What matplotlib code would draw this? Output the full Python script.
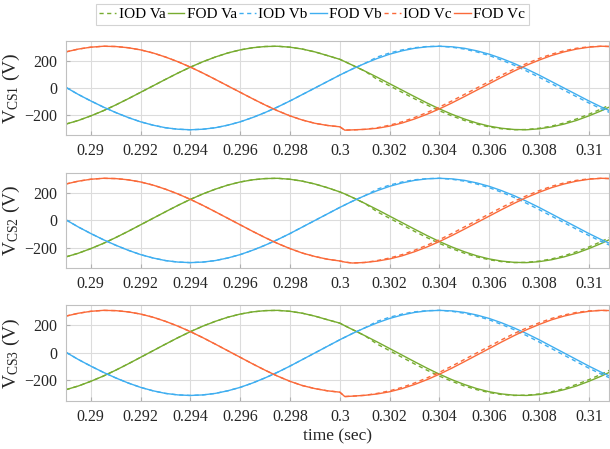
#!/usr/bin/env python3
# -*- coding: utf-8 -*-

import numpy as np
import matplotlib

matplotlib.use("Agg")
import matplotlib.pyplot as plt

# time base: 0.5 ms steps, plus one extra sample just after the 0.3 s event
t = np.r_[np.arange(0.289, 0.30001, 0.0005), 0.3002, np.arange(0.3005, 0.31101, 0.0005)]

# FOD phase voltages (V)
FOD_VA = [-268, -241, -207, -169, -126, -80, -32, 16, 64, 111, 155, 195, 230, 260, 283, 299,
          308, 310, 303, 289, 268, 241, 207, 193, 169, 126, 80, 32, -16, -64, -111, -155,
          -195, -230, -260, -283, -299, -308, -310, -303, -289, -268, -241, -207, -169, -126]
FOD_VB = [5, -48, -96, -141, -182, -219, -251, -276, -295, -306, -310, -306, -295, -276, -251,
          -219, -182, -141, -96, -48, 0, 48, 96, 114, 141, 182, 219, 251, 276, 295, 306, 310,
          306, 295, 276, 251, 219, 182, 141, 96, 48, 0, -48, -96, -141, -182]
FOD_VC = [268, 289, 303, 310, 308, 299, 283, 260, 230, 195, 155, 111, 64, 16, -32, -80, -126,
          -169, -207, -241, -268, -289, -303, -307, -310, -308, -299, -283, -260, -230, -195,
          -155, -111, -64, -16, 32, 80, 126, 169, 207, 241, 268, 289, 303, 310, 308]

# IOD phase voltages (V): same until the event, then slightly ahead
IOD_VA = [-268, -241, -207, -169, -126, -80, -32, 16, 64, 111, 155, 195, 230, 260, 283, 299,
          308, 310, 303, 289, 268, 241, 207, 193, 169, 126, 64, 16, -32, -80, -126, -169,
          -207, -241, -268, -289, -303, -310, -308, -299, -283, -260, -230, -195, -155, -111]
IOD_VB = [5, -48, -96, -141, -182, -219, -251, -276, -295, -306, -310, -306, -295, -276, -251,
          -219, -182, -141, -96, -48, 0, 48, 96, 114, 141, 182, 230, 260, 283, 299, 308, 310,
          303, 289, 268, 241, 207, 169, 126, 80, 32, -16, -64, -111, -155, -195]
IOD_VC = [268, 289, 303, 310, 308, 299, 283, 260, 230, 195, 155, 111, 64, 16, -32, -80, -126,
          -169, -207, -241, -268, -289, -303, -307, -310, -308, -295, -276, -251, -219, -182,
          -141, -96, -48, 0, 48, 96, 141, 182, 219, 251, 276, 295, 306, 310, 306]

# values around the switching event, one row per converter stage
EVENT_T = [0.2985, 0.299, 0.2995, 0.3, 0.3002, 0.3005, 0.301]
EVENT_VA = [
    [289, 268, 241, 213, 196, 170, 126],
    [289, 268, 241, 210, 195, 170, 126],
    [289, 268, 242, 217, 198, 171, 126],
]
EVENT_VC = [
    [-238, -262, -278, -288, -313, -311, -307],
    [-240, -265, -285, -298, -306, -313, -309],
    [-238, -260, -276, -286, -318, -315, -309],
]

YLABELS = [r"V$_{\mathrm{CS1}}$ (V)", r"V$_{\mathrm{CS2}}$ (V)", r"V$_{\mathrm{CS3}}$ (V)"]
XTICKS = [0.29, 0.292, 0.294, 0.296, 0.298, 0.3, 0.302, 0.304, 0.306, 0.308, 0.31]
XTICKLABELS = ["0.29", "0.292", "0.294", "0.296", "0.298", "0.3", "0.302", "0.304",
               "0.306", "0.308", "0.31"]

GREEN = "#77AC30"
BLUE = "#3FAEF0"
ORANGE = "#FA6A3A"


def patch(values, event_values):
    out = np.array(values, dtype=float)
    for te, v in zip(EVENT_T, event_values):
        out[np.isclose(t, te)] = v
    return out


def plot_panel(ax, i):
    va_f = patch(FOD_VA, EVENT_VA[i])
    va_i = patch(IOD_VA, EVENT_VA[i])
    vc_f = patch(FOD_VC, EVENT_VC[i])
    vc_i = patch(IOD_VC, EVENT_VC[i])
    series = [
        (va_i, GREEN, "--", "IOD Va"),
        (va_f, GREEN, "-", "FOD Va"),
        (IOD_VB, BLUE, "--", "IOD Vb"),
        (FOD_VB, BLUE, "-", "FOD Vb"),
        (vc_i, ORANGE, "--", "IOD Vc"),
        (vc_f, ORANGE, "-", "FOD Vc"),
    ]
    for y, color, ls, label in series:
        line, = ax.plot(t, y, color=color, lw=1.0, label=label)
        if ls == "--":
            line.set_dashes((3, 2.5))

    ax.set_xlim(0.289, 0.3108)
    ax.set_ylim(-350, 350)
    ax.set_yticks([-200, 0, 200])
    ax.set_xticks(XTICKS)
    ax.set_xticklabels(XTICKLABELS)
    ax.grid(True, color="#dcdcdc", lw=0.8)
    ax.set_axisbelow(True)
    for s in ax.spines.values():
        s.set_color("#c0c0c0")
        s.set_linewidth(0.8)
    ax.tick_params(direction="in", length=3, color="#b0b0b0", labelsize=11.5,
                   labelcolor="#262626", pad=6)
    ax.set_ylabel(YLABELS[i], fontsize=14, color="#262626", labelpad=2)


def main():
    plt.rcParams["font.family"] = ["Liberation Serif", "DejaVu Serif"]
    plt.rcParams["mathtext.fontset"] = "custom"
    plt.rcParams["mathtext.rm"] = "Liberation Serif"
    plt.rcParams["mathtext.it"] = "Liberation Serif:italic"

    fig = plt.figure(figsize=(6.1, 4.49), dpi=100)
    boxes = [
        [0.108, 0.699, 0.890, 0.210],
        [0.108, 0.403, 0.890, 0.212],
        [0.108, 0.107, 0.890, 0.214],
    ]
    axes = [fig.add_axes(b) for b in boxes]
    for i, ax in enumerate(axes):
        plot_panel(ax, i)
    axes[-1].set_xlabel("time (sec)", fontsize=12.5, color="#262626", labelpad=2)

    handles, labels = axes[0].get_legend_handles_labels()
    leg = fig.legend(handles, labels, loc="upper center", bbox_to_anchor=(0.512, 0.998),
                     ncol=6, frameon=True, fancybox=False, fontsize=11,
                     handlelength=1.1, handletextpad=0.15, columnspacing=0.15,
                     borderpad=0.25, borderaxespad=0.2)
    leg.get_frame().set_edgecolor("#c8c8c8")
    leg.get_frame().set_linewidth(0.8)

    fig.savefig("out.png", dpi=100)


if __name__ == "__main__":
    main()
